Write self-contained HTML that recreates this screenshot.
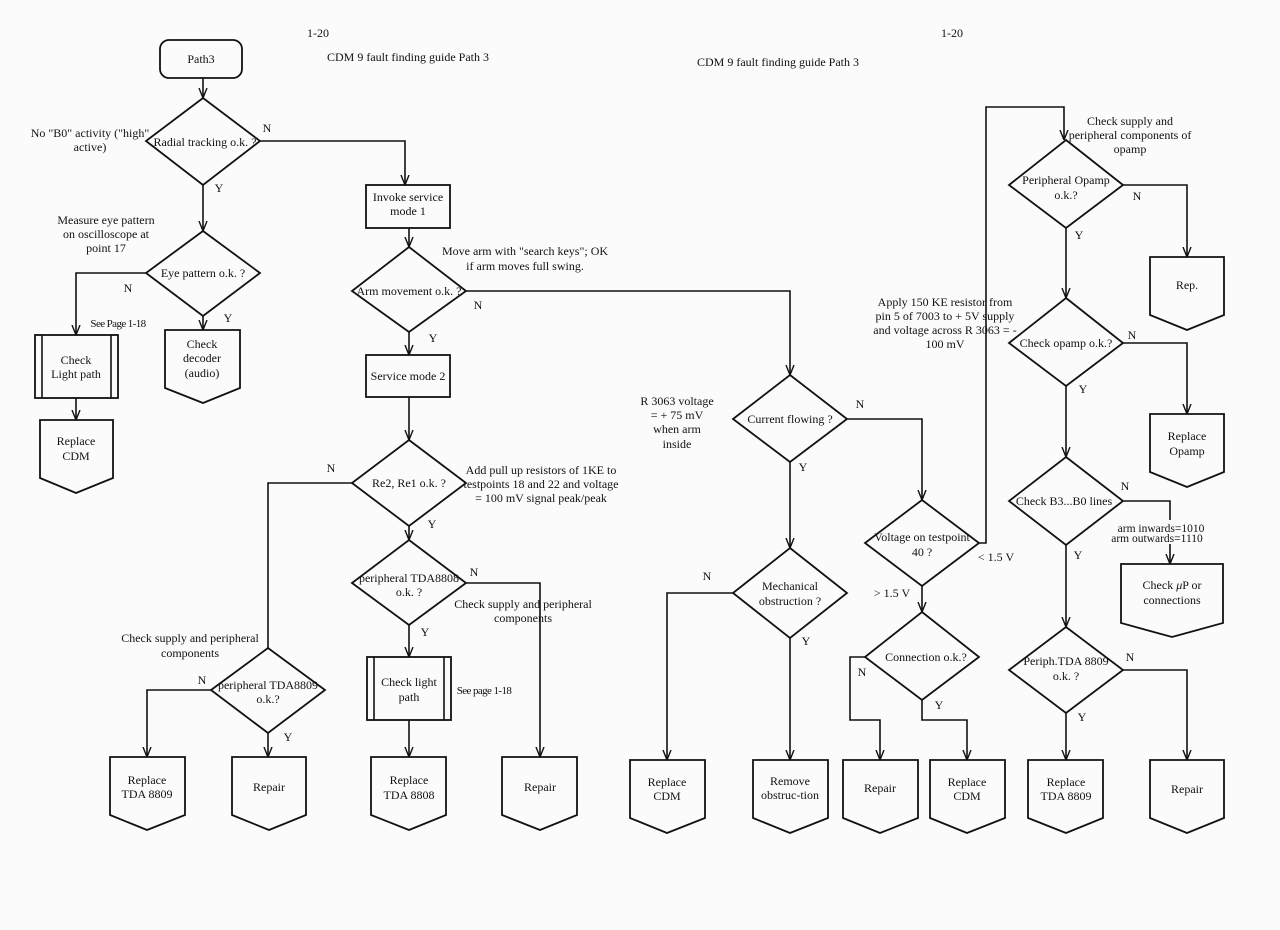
<!DOCTYPE html>
<html><head><meta charset="utf-8"><style>
html,body{margin:0;padding:0;background:#fbfbfb;}
svg{display:block;}
text{font-family:"Liberation Serif",serif;font-size:12px;fill:#111;text-anchor:middle;}
.s{fill:none;stroke:#111;stroke-width:1.6;}
.b{fill:none;stroke:#111;stroke-width:1.8;}
</style></head><body>
<svg width="1280" height="930" viewBox="0 0 1280 930" xmlns="http://www.w3.org/2000/svg">
<defs><marker id="a" viewBox="0 0 10 10" refX="10" refY="5" markerUnits="userSpaceOnUse" markerWidth="10" markerHeight="10" orient="auto"><path d="M0,1 L10,5 L0,9" fill="none" stroke="#111" stroke-width="1.4"/></marker></defs>

<text x="318" y="37">1-20</text>
<text x="408" y="61">CDM 9 fault finding guide Path 3</text>
<text x="952" y="37">1-20</text>
<text x="778" y="66">CDM 9 fault finding guide Path 3</text>

<!-- Left page -->
<rect x="160" y="40" width="82" height="38" rx="9" class="b"/>
<text x="201" y="63">Path3</text>
<line x1="203" y1="78" x2="203" y2="98" class="s" marker-end="url(#a)"/>
<polygon points="203,98 260,141 203,185 146,141" class="b"/>
<text x="205" y="146">Radial tracking o.k. ?</text>
<text x="90" y="137">No "B0" activity ("high"</text>
<text x="90" y="151">active)</text>
<text x="267" y="132">N</text>
<polyline points="260,141 405,141 405,185" class="s" marker-end="url(#a)"/>
<text x="219" y="192">Y</text>
<line x1="203" y1="185" x2="203" y2="231" class="s" marker-end="url(#a)"/>
<text x="106" y="224">Measure eye pattern</text>
<text x="106" y="238">on oscilloscope at</text>
<text x="106" y="252">point 17</text>
<polygon points="203,231 260,273 203,316 146,273" class="b"/>
<text x="203" y="277">Eye pattern o.k. ?</text>
<text x="128" y="292">N</text>
<polyline points="146,273 76,273 76,335" class="s" marker-end="url(#a)"/>
<text x="118" y="327" style="font-size:11px;letter-spacing:-0.6px">See Page 1-18</text>
<rect x="35" y="335" width="83" height="63" class="b"/>
<line x1="42" y1="335" x2="42" y2="398" class="s"/><line x1="111" y1="335" x2="111" y2="398" class="s"/>
<text x="76" y="364">Check</text><text x="76" y="378">Light path</text>
<line x1="76" y1="398" x2="76" y2="420" class="s" marker-end="url(#a)"/>
<polygon points="40,420 113,420 113,478 76,493 40,478" class="b"/>
<text x="76" y="445">Replace</text><text x="76" y="460">CDM</text>
<text x="228" y="322">Y</text>
<line x1="203" y1="316" x2="203" y2="330" class="s" marker-end="url(#a)"/>
<polygon points="165,330 240,330 240,388 203,403 165,388" class="b"/>
<text x="202" y="348">Check</text><text x="202" y="362">decoder</text><text x="202" y="377">(audio)</text>

<rect x="366" y="185" width="84" height="43" class="b"/>
<text x="408" y="201">Invoke service</text><text x="408" y="215">mode 1</text>
<line x1="409" y1="228" x2="409" y2="247" class="s" marker-end="url(#a)"/>
<polygon points="409,247 466,291 409,332 352,291" class="b"/>
<text x="409" y="295">Arm movement o.k. ?</text>
<text x="525" y="255">Move arm with "search keys"; OK</text>
<text x="525" y="270">if arm moves full swing.</text>
<text x="478" y="309">N</text>
<polyline points="466,291 790,291 790,375" class="s" marker-end="url(#a)"/>
<text x="433" y="342">Y</text>
<line x1="409" y1="332" x2="409" y2="355" class="s" marker-end="url(#a)"/>
<rect x="366" y="355" width="84" height="42" class="b"/>
<text x="408" y="380">Service mode 2</text>
<line x1="409" y1="397" x2="409" y2="440" class="s" marker-end="url(#a)"/>
<polygon points="409,440 466,483 409,526 352,483" class="b"/>
<text x="409" y="487">Re2, Re1 o.k. ?</text>
<text x="541" y="474">Add pull up resistors of  1KE to</text>
<text x="541" y="488">testpoints 18 and 22 and voltage</text>
<text x="541" y="502">= 100 mV signal peak/peak</text>
<text x="331" y="472">N</text>
<polyline points="352,483 268,483 268,648" class="s"/>
<text x="190" y="642">Check supply and peripheral</text>
<text x="190" y="657">components</text>
<polygon points="268,648 325,690 268,733 211,690" class="b"/>
<text x="268" y="689">peripheral TDA8809</text><text x="268" y="703">o.k.?</text>
<text x="202" y="684">N</text>
<polyline points="211,690 147,690 147,757" class="s" marker-end="url(#a)"/>
<text x="288" y="741">Y</text>
<line x1="268" y1="733" x2="268" y2="757" class="s" marker-end="url(#a)"/>
<polygon points="110,757 185,757 185,815 147,830 110,815" class="b"/>
<text x="147" y="784">Replace</text><text x="147" y="798">TDA 8809</text>
<polygon points="232,757 306,757 306,815 269,830 232,815" class="b"/>
<text x="269" y="791">Repair</text>
<text x="432" y="528">Y</text>
<line x1="409" y1="526" x2="409" y2="540" class="s" marker-end="url(#a)"/>
<polygon points="409,540 466,583 409,625 352,583" class="b"/>
<text x="409" y="582">peripheral TDA8808</text><text x="409" y="596">o.k. ?</text>
<text x="474" y="576">N</text>
<polyline points="466,583 540,583 540,757" class="s" marker-end="url(#a)"/>
<text x="523" y="608">Check supply and peripheral</text>
<text x="523" y="622">components</text>
<text x="425" y="636">Y</text>
<line x1="409" y1="625" x2="409" y2="657" class="s" marker-end="url(#a)"/>
<rect x="367" y="657" width="84" height="63" class="b"/>
<line x1="374" y1="657" x2="374" y2="720" class="s"/><line x1="444" y1="657" x2="444" y2="720" class="s"/>
<text x="409" y="686">Check light</text><text x="409" y="701">path</text>
<text x="484" y="694" style="font-size:11px;letter-spacing:-0.6px">See page 1-18</text>
<line x1="409" y1="720" x2="409" y2="757" class="s" marker-end="url(#a)"/>
<polygon points="371,757 446,757 446,815 409,830 371,815" class="b"/>
<text x="409" y="784">Replace</text><text x="409" y="799">TDA 8808</text>
<polygon points="502,757 577,757 577,815 540,830 502,815" class="b"/>
<text x="540" y="791">Repair</text>

<!-- Right page -->
<polygon points="790,375 847,419 790,462 733,419" class="b"/>
<text x="790" y="423">Current flowing ?</text>
<text x="677" y="405">R 3063 voltage</text>
<text x="677" y="419">= + 75 mV</text>
<text x="677" y="433">when arm</text>
<text x="677" y="448">inside</text>
<text x="860" y="408">N</text>
<polyline points="847,419 922,419 922,500" class="s" marker-end="url(#a)"/>
<text x="803" y="471">Y</text>
<line x1="790" y1="462" x2="790" y2="548" class="s" marker-end="url(#a)"/>
<polygon points="790,548 847,593 790,638 733,593" class="b"/>
<text x="790" y="590">Mechanical</text><text x="790" y="605">obstruction ?</text>
<text x="707" y="580">N</text>
<polyline points="733,593 667,593 667,760" class="s" marker-end="url(#a)"/>
<text x="806" y="645">Y</text>
<line x1="790" y1="638" x2="790" y2="760" class="s" marker-end="url(#a)"/>
<polygon points="630,760 705,760 705,818 667,833 630,818" class="b"/>
<text x="667" y="786">Replace</text><text x="667" y="800">CDM</text>
<polygon points="753,760 828,760 828,818 790,833 753,818" class="b"/>
<text x="790" y="785">Remove</text><text x="790" y="799">obstruc-tion</text>
<polygon points="922,500 979,543 922,586 865,543" class="b"/>
<text x="922" y="541">Voltage on testpoint</text><text x="922" y="556">40 ?</text>
<text x="996" y="561">&lt; 1.5 V</text>
<polyline points="979,543 986,543 986,107 1064,107 1064,140" class="s" marker-end="url(#a)"/>
<text x="892" y="597">&gt; 1.5 V</text>
<line x1="922" y1="586" x2="922" y2="612" class="s" marker-end="url(#a)"/>
<polygon points="922,612 979,657 922,700 865,657" class="b"/>
<text x="926" y="661">Connection o.k.?</text>
<text x="862" y="676">N</text>
<polyline points="865,657 850,657 850,720 880,720 880,760" class="s" marker-end="url(#a)"/>
<text x="939" y="709">Y</text>
<polyline points="922,700 922,720 967,720 967,760" class="s" marker-end="url(#a)"/>
<polygon points="843,760 918,760 918,818 880,833 843,818" class="b"/>
<text x="880" y="792">Repair</text>
<polygon points="930,760 1005,760 1005,818 967,833 930,818" class="b"/>
<text x="967" y="786">Replace</text><text x="967" y="800">CDM</text>

<text x="945" y="306">Apply 150 KE resistor from</text>
<text x="945" y="320">pin 5 of 7003 to + 5V supply</text>
<text x="945" y="334">and voltage across R 3063 = -</text>
<text x="945" y="348">100 mV</text>

<polygon points="1066,140 1123,185 1066,228 1009,185" class="b"/>
<text x="1066" y="184">Peripheral Opamp</text><text x="1066" y="199">o.k.?</text>
<text x="1130" y="125">Check supply and</text>
<text x="1130" y="139">peripheral components of</text>
<text x="1130" y="153">opamp</text>
<text x="1137" y="200">N</text>
<polyline points="1123,185 1187,185 1187,257" class="s" marker-end="url(#a)"/>
<polygon points="1150,257 1224,257 1224,315 1187,330 1150,315" class="b"/>
<text x="1187" y="289">Rep.</text>
<text x="1079" y="239">Y</text>
<line x1="1066" y1="228" x2="1066" y2="298" class="s" marker-end="url(#a)"/>
<polygon points="1066,298 1123,343 1066,386 1009,343" class="b"/>
<text x="1066" y="347">Check opamp o.k.?</text>
<text x="1132" y="339">N</text>
<polyline points="1123,343 1187,343 1187,414" class="s" marker-end="url(#a)"/>
<polygon points="1150,414 1224,414 1224,472 1187,487 1150,472" class="b"/>
<text x="1187" y="440">Replace</text><text x="1187" y="455">Opamp</text>
<text x="1083" y="393">Y</text>
<line x1="1066" y1="386" x2="1066" y2="457" class="s" marker-end="url(#a)"/>
<polygon points="1066,457 1123,501 1066,545 1009,501" class="b"/>
<text x="1064" y="505">Check B3...B0 lines</text>
<text x="1125" y="490">N</text>
<polyline points="1123,501 1170,501 1170,520" class="s"/>
<line x1="1170" y1="544" x2="1170" y2="564" class="s" marker-end="url(#a)"/>
<text x="1161" y="532" style="font-size:11.5px">arm inwards=1010</text>
<text x="1157" y="542" style="font-size:11.5px">arm outwards=1110</text>
<polygon points="1121,564 1223,564 1223,623 1172,637 1121,623" class="b"/>
<text x="1172" y="589">Check <tspan font-style="italic">μ</tspan>P or</text><text x="1172" y="604">connections</text>
<text x="1078" y="559">Y</text>
<line x1="1066" y1="545" x2="1066" y2="627" class="s" marker-end="url(#a)"/>
<polygon points="1066,627 1123,670 1066,713 1009,670" class="b"/>
<text x="1066" y="665">Periph.TDA 8809</text><text x="1066" y="680">o.k. ?</text>
<text x="1130" y="661">N</text>
<polyline points="1123,670 1187,670 1187,760" class="s" marker-end="url(#a)"/>
<text x="1082" y="721">Y</text>
<line x1="1066" y1="713" x2="1066" y2="760" class="s" marker-end="url(#a)"/>
<polygon points="1028,760 1103,760 1103,818 1066,833 1028,818" class="b"/>
<text x="1066" y="786">Replace</text><text x="1066" y="800">TDA 8809</text>
<polygon points="1150,760 1224,760 1224,818 1187,833 1150,818" class="b"/>
<text x="1187" y="793">Repair</text>
</svg>
</body></html>
